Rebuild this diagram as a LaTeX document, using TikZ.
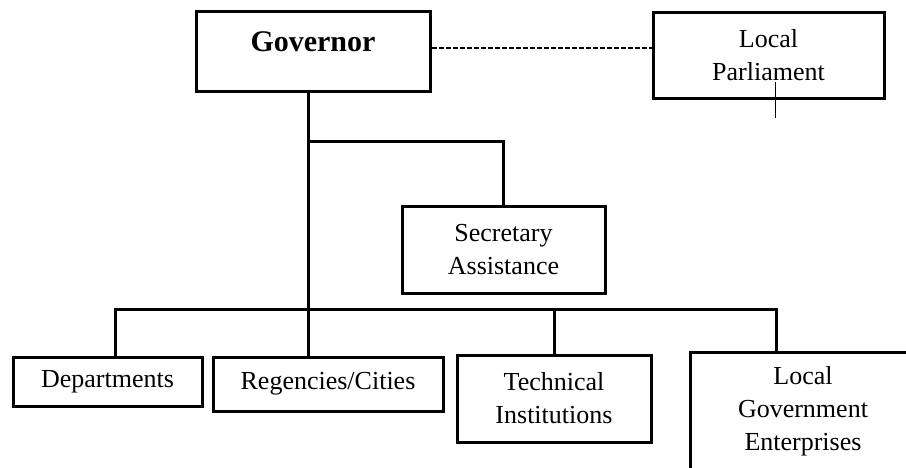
\documentclass[tikz,border=0pt]{standalone}
\usepackage{fontspec}
\setmainfont{Liberation Serif}
\begin{document}
\begin{tikzpicture}[x=1pt,y=-1pt,
  box/.style={draw, line width=3pt, inner sep=0pt, align=center,
              font=\fontsize{26}{33}\selectfont},
  link/.style={line width=3pt},
  dotlink/.style={line width=2.4pt, dash pattern=on 5pt off 2pt},
  stub/.style={line width=1pt}]
\useasboundingbox (0,0) rectangle (906,467);
\clip (0,0) rectangle (906,467);

% boxes
\node[box, minimum width=234pt, minimum height=80pt,
      font=\bfseries\fontsize{30}{36}\selectfont,
      text height=20pt, text depth=20pt] (gov) at (313,51) {Governor};
\node[box, minimum width=231pt, minimum height=86pt] (lp) at (768.5,55) {Local\\Parliament};
\node[box, minimum width=203pt, minimum height=87pt] (sec) at (503.5,249.5) {Secretary\\Assistance};
\node[box, minimum width=189pt, minimum height=49pt] (dep) at (107.5,381.5) {Departments};
\node[box, minimum width=230pt, minimum height=54pt] (reg) at (328,384) {Regencies/Cities};
\node[box, minimum width=194pt, minimum height=87pt] (tech) at (554,398.5) {Technical\\Institutions};
\node[box, minimum width=226pt, minimum height=118pt] (lge) at (803,411) {Local\\Government\\Enterprises};

% helper points of the tree
\coordinate (trunk) at (308,0);
\coordinate (secbar) at (308,141);
\coordinate (barL) at (115,309);
\coordinate (barR) at (776,309);
\coordinate (dashy) at (0,48);
\coordinate (stubtop) at (775,82);
\coordinate (stubend) at (775,118);

% connectors
\draw[link] (gov.south -| trunk) -- (reg.north -| trunk);
\draw[link] (secbar) -| (sec.north);
\draw[link] (dep.north -| barL) |- (barR) -- (lge.north -| barR);
\draw[link] (barL -| tech.north) -- (tech.north);
\draw[dotlink] (gov.east |- dashy) -- (lp.west |- dashy);
\draw[stub] (stubtop) -- (stubend);
\end{tikzpicture}
\end{document}
